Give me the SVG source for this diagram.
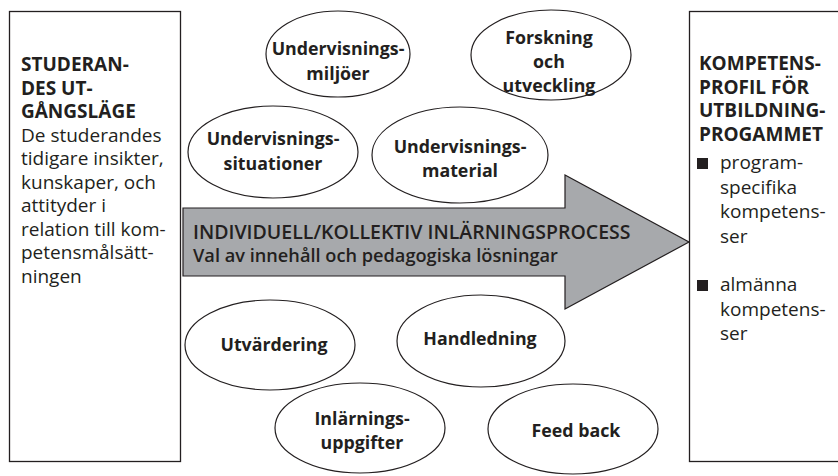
<svg xmlns="http://www.w3.org/2000/svg" width="838" height="476" viewBox="0 0 838 476">
<style>
.box{fill:#fff;stroke:#231f20;stroke-width:1.3}
.ell{fill:#fff;stroke:#231f20;stroke-width:1.2}
.arrow{fill:#a7a9ac;stroke:#231f20;stroke-width:1.2;stroke-linejoin:miter}
text{font-family:"Open Sans","Noto Sans",sans-serif;fill:#231f20}
.h{font-size:19px;font-weight:700}
.b{font-size:19px;font-weight:400}
.l{font-size:17.8px;font-weight:700;text-anchor:middle}
.a{font-size:19.5px;font-weight:600}
.a2{font-size:18.2px;font-weight:600}
.sq{fill:#231f20}
</style>
<rect width="838" height="476" fill="#fff"/>
<g id="connectors">
<path id="process-arrow" class="arrow" d="M183,208 L565,208 L565,175 L689,242 L565,309 L565,276 L183,276 Z"/>
</g>
<g id="start">
<rect class="box" x="9.5" y="11.5" width="171" height="450"/>
<text class="h" x="21" y="71">STUDERAN-</text>
<text class="h" x="21" y="94.5">DES UT-</text>
<text class="h" x="21" y="118">GÅNGSLÄGE</text>
<text class="b" x="21" y="141.5">De studerandes</text>
<text class="b" x="21" y="165">tidigare insikter,</text>
<text class="b" x="21" y="188.5">kunskaper, och</text>
<text class="b" x="21" y="212">attityder i</text>
<text class="b" x="21" y="235.5">relation till kom-</text>
<text class="b" x="21" y="259">petensmålsätt-</text>
<text class="b" x="21" y="282.5">ningen</text>
</g>
<g id="profile">
<rect class="box" x="689.5" y="11.5" width="170" height="450"/>
<text class="h" x="699" y="70">KOMPETENS-</text>
<text class="h" x="699" y="93.5">PROFIL FÖR</text>
<text class="h" x="699" y="117">UTBILDNING-</text>
<text class="h" x="699" y="140.5">PROGAMMET</text>
<rect class="sq" x="697" y="158" width="11" height="11"/>
<text class="b" x="720" y="169">program-</text>
<text class="b" x="720" y="193.5">specifika</text>
<text class="b" x="720" y="218">kompetens-</text>
<text class="b" x="720" y="242.5">ser</text>
<rect class="sq" x="697" y="280" width="11" height="11"/>
<text class="b" x="720" y="291">almänna</text>
<text class="b" x="720" y="315.5">kompetens-</text>
<text class="b" x="720" y="340">ser</text>
</g>
<g id="process-label">
<text class="a" x="193" y="239">INDIVIDUELL/KOLLEKTIV INLÄRNINGSPROCESS</text>
<text class="a2" x="193" y="262">Val av innehåll och pedagogiska lösningar</text>
</g>
<g id="miljoer">
<ellipse class="ell" cx="338" cy="54" rx="72" ry="43"/>
<text class="l" x="338" y="55">Undervisnings-</text>
<text class="l" x="338" y="80">miljöer</text>
</g>
<g id="forskning">
<ellipse class="ell" cx="551" cy="55" rx="80" ry="45"/>
<text class="l" x="549" y="44">Forskning</text>
<text class="l" x="549" y="68">och</text>
<text class="l" x="549" y="92">utveckling</text>
</g>
<g id="situationer">
<ellipse class="ell" cx="273" cy="152" rx="85" ry="46"/>
<text class="l" x="273" y="145">Undervisnings-</text>
<text class="l" x="273" y="170">situationer</text>
</g>
<g id="material">
<ellipse class="ell" cx="460" cy="155" rx="88" ry="48"/>
<text class="l" x="460" y="153">Undervisnings-</text>
<text class="l" x="460" y="177">material</text>
</g>
<g id="utvardering">
<ellipse class="ell" cx="270" cy="345" rx="85" ry="45"/>
<text class="l" x="274" y="351">Utvärdering</text>
</g>
<g id="handledning">
<ellipse class="ell" cx="481" cy="341" rx="84" ry="46"/>
<text class="l" x="480" y="345">Handledning</text>
</g>
<g id="inlarningsuppgifter">
<ellipse class="ell" cx="360" cy="428" rx="85" ry="45"/>
<text class="l" x="362" y="425">Inlärnings-</text>
<text class="l" x="362" y="449">uppgifter</text>
</g>
<g id="feedback">
<ellipse class="ell" cx="573" cy="429" rx="85" ry="45"/>
<text class="l" x="576" y="437">Feed back</text>
</g>
</svg>
